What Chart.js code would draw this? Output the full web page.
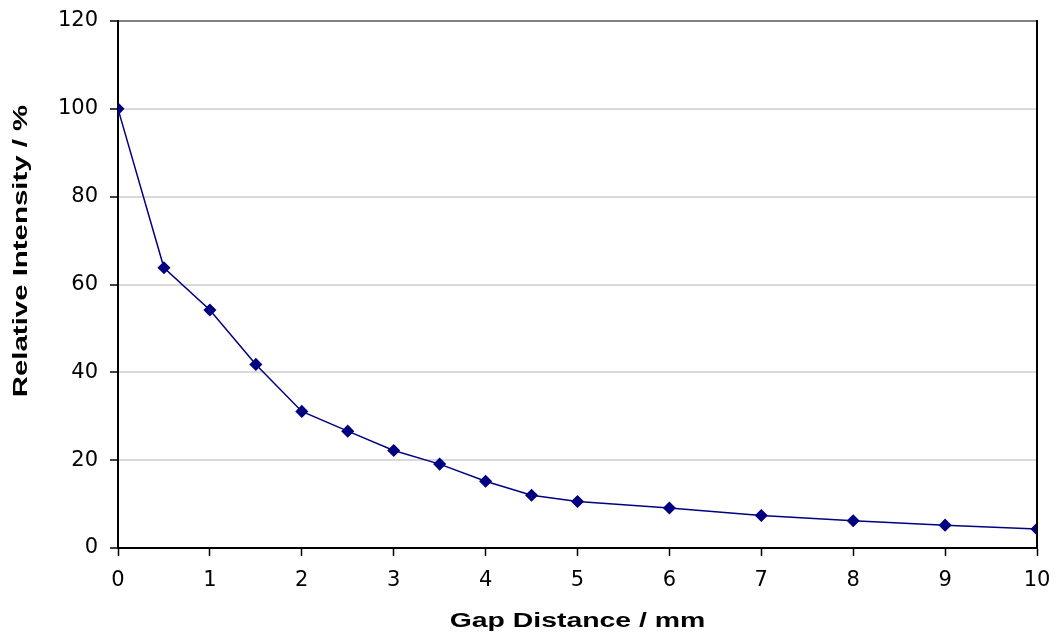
<!DOCTYPE html>
<html lang="en">
<head>
  <meta charset="UTF-8" />
  <title>Relative Intensity vs Gap Distance</title>
  <script src="https://cdn.jsdelivr.net/npm/chart.js"></script>
  <style>
    body {
      margin: 0;
      background: #ffffff;
    }

    .chart-container {
      width: 1056px;
      height: 632px;
    }
  </style>
</head>
<body>

  <div class="chart-container">
    <canvas id="gapChart"></canvas>
  </div>

  <script>
    // data
    const gapDistance = [0, 0.5, 1, 1.5, 2, 2.5, 3, 3.5, 4, 4.5, 5, 6, 7, 8, 9, 10];
    const relIntensity = [100, 63.8, 54.2, 41.8, 31.1, 26.6, 22.2, 19.1, 15.2, 12.0, 10.6, 9.1, 7.4, 6.2, 5.2, 4.3];
    const xTicks = [0, 1, 2, 3, 4, 5, 6, 7, 8, 9, 10];
    const yTicks = [0, 20, 40, 60, 80, 100, 120];

    const xTitle = 'Gap Distance / mm';
    const yTitle = 'Relative Intensity / %';

    const points = gapDistance.map((x, i) => ({ x: x, y: relIntensity[i] }));

    // the original's titles are wide (stretched) Arial, so draw them here
    function wideText(c, text, x, y, angle, size, stretch) {
      c.save();
      c.translate(x, y);
      c.rotate(angle);
      c.scale(stretch, 1);
      c.fillStyle = '#000000';
      c.font = 'bold ' + size + 'px "Liberation Sans", Arial, sans-serif';
      c.textAlign = 'center';
      c.textBaseline = 'middle';
      c.fillText(text, 0, 0);
      c.restore();
    }

    // right border of the plot area + axis titles
    const frame = {
      id: 'frame',
      afterDraw(chart) {
        const c = chart.ctx;
        const a = chart.chartArea;
        c.save();
        c.strokeStyle = '#000000';
        c.lineWidth = 2;
        c.beginPath();
        c.moveTo(a.right, a.top - 1);
        c.lineTo(a.right, a.bottom);
        c.stroke();
        c.restore();

        wideText(c, xTitle, (a.left + a.right) / 2, 621, 0, 20, 1.42);
        wideText(c, yTitle, 21, 251, -Math.PI / 2, 20, 1.47);
      }
    };

    const tickFont = { family: '"DejaVu Sans", sans-serif', size: 21 };

    const ctx = document.getElementById('gapChart').getContext('2d');

    const gapChart = new Chart(ctx, {
      type: 'line',
      data: {
        datasets: [
          {
            label: 'Relative Intensity',
            data: points,
            borderColor: '#000080',
            backgroundColor: '#000080',
            borderWidth: 1.5,
            pointStyle: 'rectRot',
            pointRadius: 5.5,
            pointHoverRadius: 5.5,
            tension: 0
          }
        ]
      },
      options: {
        responsive: true,
        maintainAspectRatio: false,
        animation: false,
        layout: {
          padding: { left: 0, right: 19, top: 21, bottom: 0 }
        },
        plugins: {
          legend: { display: false },
          tooltip: { enabled: false }
        },
        scales: {
          x: {
            type: 'linear',
            min: 0,
            max: 10,
            afterBuildTicks: (s) => { s.ticks = xTicks.map(v => ({ value: v })); },
            afterFit: (s) => {
              s.height = 84;
              s.paddingLeft = 0;
              s.paddingRight = 0;
            },
            ticks: {
              color: '#000000',
              font: tickFont,
              padding: 12,
              maxRotation: 0
            },
            grid: {
              drawOnChartArea: false,
              tickLength: 8,
              tickColor: '#000000',
              tickWidth: 1.5
            },
            border: { color: '#000000', width: 2 }
          },
          y: {
            min: 0,
            max: 120,
            afterBuildTicks: (s) => { s.ticks = yTicks.map(v => ({ value: v })); },
            afterFit: (s) => {
              s.width = 118;
              s.paddingTop = 0;
              s.paddingBottom = 0;
            },
            ticks: {
              color: '#000000',
              font: tickFont,
              padding: 12
            },
            grid: {
              color: (c) => (c.tick && c.tick.value === 120 ? '#808080' : '#d9d9d9'),
              lineWidth: 2,
              tickLength: 8,
              tickColor: '#000000',
              tickWidth: 1.5
            },
            border: { color: '#000000', width: 2 }
          }
        }
      },
      plugins: [frame]
    });
  </script>
</body>
</html>
